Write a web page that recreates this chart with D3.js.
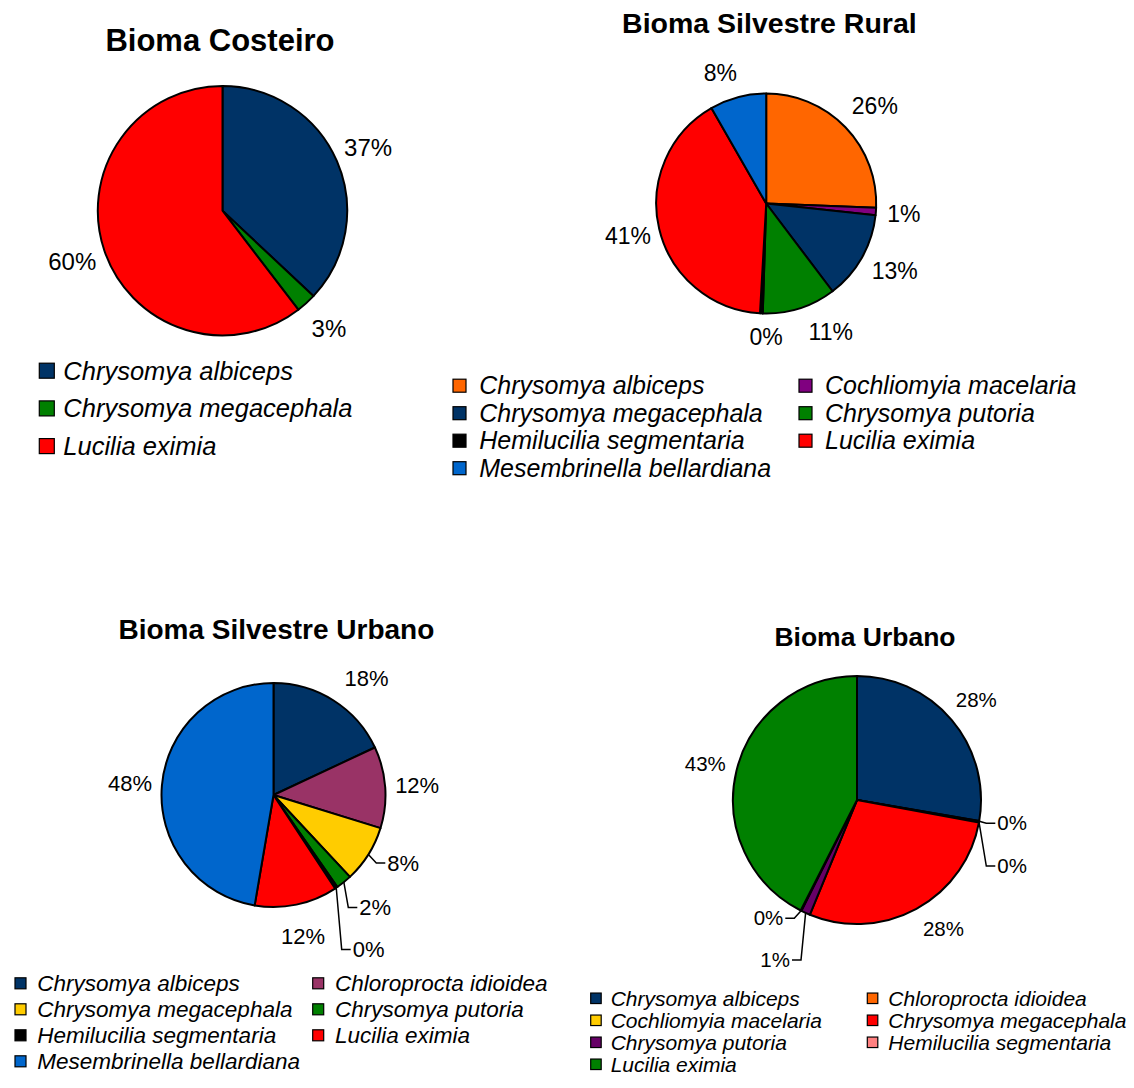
<!DOCTYPE html>
<html>
<head>
<meta charset="utf-8">
<script src="https://cdn.jsdelivr.net/npm/d3@7"></script>
<style>
  html, body { margin: 0; padding: 0; background: #fff; }
  svg { display: block; font-family: "Liberation Sans", Arial, sans-serif; }
</style>
</head>
<body>
<svg id="chart" width="1134" height="1088"></svg>
<script>
// ---- Bioma Costeiro ----
const costeiroSpecies = ["Chrysomya albiceps", "Chrysomya megacephala", "Lucilia eximia"];
const costeiroValues  = [37.0, 2.6, 60.4];
const costeiroColors  = ["#003366", "#008000", "#FF0000"];

// ---- Bioma Silvestre Rural ----
const ruralSpecies = ["Chrysomya albiceps", "Cochliomyia macelaria", "Chrysomya megacephala",
  "Chrysomya putoria", "Hemilucilia segmentaria", "Lucilia eximia", "Mesembrinella bellardiana"];
const ruralValues  = [25.6, 1.1, 13.0, 10.8, 0.4, 40.8, 8.3];
const ruralColors  = ["#FF6600", "#800080", "#003366", "#008000", "#000000", "#FF0000", "#0066CC"];

// ---- Bioma Silvestre Urbano ----
const silvUrbSpecies = ["Chrysomya albiceps", "Chloroprocta idioidea", "Chrysomya megacephala",
  "Chrysomya putoria", "Hemilucilia segmentaria", "Lucilia eximia", "Mesembrinella bellardiana"];
const silvUrbValues  = [18.1, 11.8, 8.3, 2.3, 0.4, 12.0, 47.5];
const silvUrbColors  = ["#003366", "#993366", "#FFCC00", "#008000", "#000000", "#FF0000", "#0066CC"];

// ---- Bioma Urbano ----
const urbanoSpecies = ["Chrysomya albiceps", "Chloroprocta idioidea", "Cochliomyia macelaria",
  "Chrysomya megacephala", "Chrysomya putoria", "Hemilucilia segmentaria", "Lucilia eximia"];
const urbanoValues  = [27.7, 0.1, 0.1, 28.3, 1.2, 0.1, 42.5];
const urbanoColors  = ["#003366", "#FF6600", "#FFCC00", "#FF0000", "#660066", "#FF8080", "#008000"];

const svg = d3.select("#chart");

const charts = [
  {
    title: "Bioma Costeiro", species: costeiroSpecies, values: costeiroValues, colors: costeiroColors,
    cx: 222.5, cy: 210.7, r: 124.7, labelFont: 24, labelOff: 34,
    titlePos: { x: 220, y: 50.7, size: 31 },
    legend: { cols: [{ sq: 39.3, tx: 63.3 }], y0: 370.7, step: 37.7, sq: 15, font: 25.5 }
  },
  {
    title: "Bioma Silvestre Rural", species: ruralSpecies, values: ruralValues, colors: ruralColors,
    cx: 766.2, cy: 203.5, r: 110, labelFont: 23, labelOff: 32,
    nudges: { 0: { da: 2, dr: 4 }, 1: { dr: -4 }, 2: { da: -2, dr: 3 }, 3: { da: -9, dr: 2 },
              4: { da: -2.5, dr: -8.5 }, 6: { da: -4.5, dr: -4 } },
    titlePos: { x: 769.4, y: 32.7, size: 28.5 },
    legend: { cols: [{ sq: 453, tx: 479.3 }, { sq: 799, tx: 825 }], y0: 385.7, step: 27.5, sq: 13, font: 25 }
  },
  {
    title: "Bioma Silvestre Urbano", species: silvUrbSpecies, values: silvUrbValues, colors: silvUrbColors,
    cx: 273.5, cy: 795, r: 112, labelFont: 22, labelOff: 32,
    nudges: { 0: { da: 6, dr: 5.5 } },
    leaders: { 2: { at: [113.8, 68], side: "right" }, 3: { at: [85.8, 112.5], side: "right" },
               4: { at: [79.2, 154.5], side: "right" } },
    titlePos: { x: 276.4, y: 638.5, size: 28 },
    legend: { cols: [{ sq: 15, tx: 37.3 }, { sq: 312.7, tx: 335 }], y0: 983.3, step: 26, sq: 11, font: 22.5 }
  },
  {
    title: "Bioma Urbano", species: urbanoSpecies, values: urbanoValues, colors: urbanoColors,
    cx: 857, cy: 800, r: 124, labelFont: 20.5, labelOff: 32,
    nudges: { 3: { da: -5.3, dr: -1 } },
    leaders: { 1: { at: [140.3, 23.3], side: "right" }, 2: { at: [140.3, 66], side: "right" },
               4: { at: [-67, 160], side: "left" }, 5: { at: [-73.7, 118.3], side: "left" } },
    titlePos: { x: 865, y: 646, size: 26.5 },
    legend: { cols: [{ sq: 590.7, tx: 610.7 }, { sq: 867.3, tx: 888.3 }], y0: 998.3, step: 22, sq: 10.5, font: 21 }
  }
];

const pie = d3.pie().sort(null).value(d => d.value).startAngle(0).endAngle(2 * Math.PI);

charts.forEach(cfg => {
  const items = cfg.species.map((s, i) => ({ name: s, value: cfg.values[i], color: cfg.colors[i] }));
  const arcs = pie(items);
  const arc = d3.arc().innerRadius(0).outerRadius(cfg.r);

  // title
  svg.append("text")
    .attr("x", cfg.titlePos.x).attr("y", cfg.titlePos.y)
    .attr("text-anchor", "middle")
    .attr("font-weight", "bold")
    .attr("font-size", cfg.titlePos.size)
    .attr("fill", "#000")
    .text(cfg.title);

  const g = svg.append("g").attr("transform", `translate(${cfg.cx},${cfg.cy})`);

  g.selectAll("path.slice")
    .data(arcs)
    .join("path")
    .attr("class", "slice")
    .attr("d", arc)
    .attr("fill", d => d.data.color)
    .attr("stroke", "#000")
    .attr("stroke-width", 2)
    .attr("stroke-linejoin", "round");

  // percentage labels
  arcs.forEach((a, i) => {
    const mid = (a.startAngle + a.endAngle) / 2;
    const label = Math.round(a.data.value) + "%";
    const lead = cfg.leaders && cfg.leaders[i];
    if (lead) {
      const sx = cfg.r * Math.sin(mid), sy = -cfg.r * Math.cos(mid);
      const [lx, ly] = lead.at;
      const dir = lead.side === "right" ? -1 : 1;
      const elbowX = lx + dir * 11, endX = lx + dir * 2;
      g.append("path")
        .attr("d", `M${sx},${sy}L${elbowX},${ly}L${endX},${ly}`)
        .attr("fill", "none").attr("stroke", "#000").attr("stroke-width", 1.5);
      g.append("text")
        .attr("x", lx).attr("y", ly).attr("dy", "0.35em")
        .attr("text-anchor", lead.side === "right" ? "start" : "end")
        .attr("font-size", cfg.labelFont).attr("fill", "#000")
        .text(label);
    } else {
      const n = (cfg.nudges && cfg.nudges[i]) || {};
      const ang = mid + (n.da || 0) * Math.PI / 180;
      const rr = cfg.r + cfg.labelOff + (n.dr || 0);
      g.append("text")
        .attr("x", rr * Math.sin(ang)).attr("y", -rr * Math.cos(ang)).attr("dy", "0.35em")
        .attr("text-anchor", "middle")
        .attr("font-size", cfg.labelFont).attr("fill", "#000")
        .text(label);
    }
  });

  // legend (row-major across columns)
  const L = cfg.legend;
  const nc = L.cols.length;
  items.forEach((d, i) => {
    const col = L.cols[i % nc];
    const y = L.y0 + Math.floor(i / nc) * L.step;
    svg.append("rect")
      .attr("x", col.sq).attr("y", y - L.sq / 2)
      .attr("width", L.sq).attr("height", L.sq)
      .attr("fill", d.color).attr("stroke", "#000").attr("stroke-width", 1.2);
    svg.append("text")
      .attr("x", col.tx).attr("y", y).attr("dy", "0.35em")
      .attr("font-style", "italic").attr("font-size", L.font).attr("fill", "#000")
      .text(d.name);
  });
});
</script>
</body>
</html>
